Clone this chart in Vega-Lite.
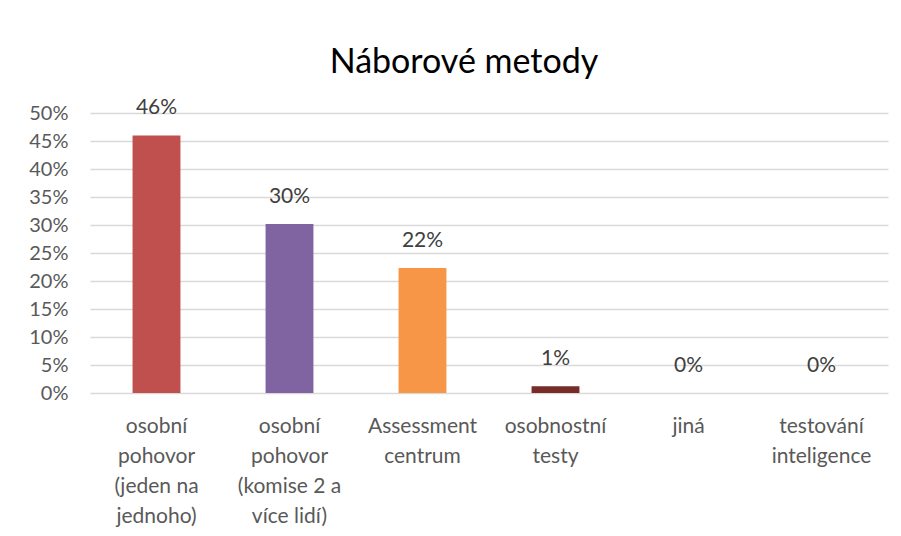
{
  "$schema": "https://vega.github.io/schema/vega-lite/v6.json",
  "autosize": {"type": "none"},
  "width": 798,
  "height": 280,
  "padding": {"left": 90, "top": 113, "right": 13, "bottom": 143},
  "background": "#ffffff",
  "title": {
    "text": "Náborové metody",
    "font": "Lato, sans-serif",
    "fontSize": 34,
    "fontWeight": "normal",
    "color": "#000000",
    "anchor": "middle",
    "baseline": "alphabetic",
    "offset": -10,
    "dx": -25
  },
  "data": {
    "values": [
      {"method": "osobní|pohovor|(jeden na|jednoho)", "value": 0.46, "color": "#C0504D"},
      {"method": "osobní|pohovor|(komise 2 a|více lidí)", "value": 0.302, "color": "#8064A2"},
      {"method": "Assessment|centrum", "value": 0.223, "color": "#F79646"},
      {"method": "osobnostní|testy", "value": 0.012, "color": "#772C2A"},
      {"method": "jiná", "value": 0.0, "color": "#5F497A"},
      {"method": "testování|inteligence", "value": 0.0, "color": "#B65708"}
    ]
  },
  "config": {
    "view": {"stroke": null},
    "font": "Lato, sans-serif"
  },
  "encoding": {
    "x": {
      "field": "method",
      "type": "nominal",
      "sort": null,
      "scale": {"paddingInner": 0.64, "paddingOuter": 0.32},
      "axis": {
        "title": null,
        "labelAngle": 0,
        "labelExpr": "split(datum.value, '|')",
        "labelFontSize": 21,
        "labelColor": "#595959",
        "labelLineHeight": 30,
        "labelPadding": 22,
        "labelBaseline": "top",
        "ticks": false,
        "domain": false,
        "grid": false
      }
    },
    "y": {
      "field": "value",
      "type": "quantitative",
      "scale": {"domain": [0, 0.5], "nice": false},
      "axis": {
        "title": null,
        "values": [0, 0.05, 0.1, 0.15, 0.2, 0.25, 0.3, 0.35, 0.4, 0.45, 0.5],
        "format": ".0%",
        "labelFontSize": 20,
        "labelColor": "#595959",
        "labelPadding": 22,
        "ticks": false,
        "domain": false,
        "grid": true,
        "gridColor": "#D9D9D9",
        "gridWidth": 1.5
      }
    }
  },
  "layer": [
    {
      "mark": {"type": "bar"},
      "encoding": {
        "color": {"field": "color", "type": "nominal", "scale": null}
      }
    },
    {
      "mark": {"type": "text", "baseline": "middle", "dy": -27, "fontSize": 21, "color": "#404040"},
      "encoding": {
        "text": {"field": "value", "type": "quantitative", "format": ".0%"}
      }
    }
  ]
}
